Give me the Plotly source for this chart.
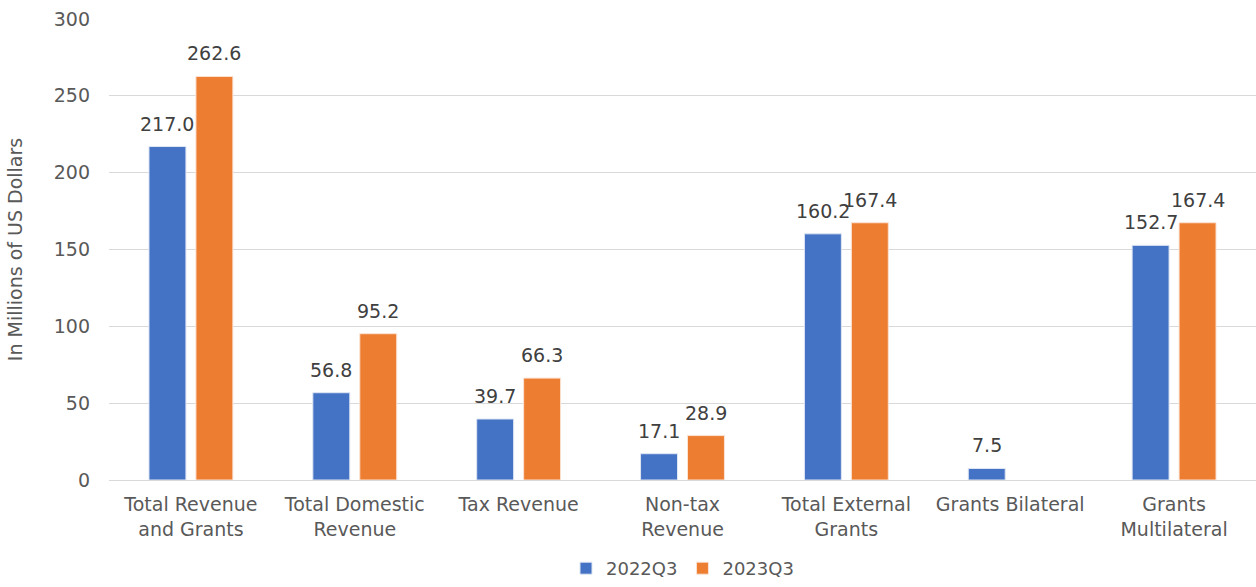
import plotly.graph_objects as go

categories = ["Total Revenue<br>and Grants", "Total Domestic<br>Revenue", "Tax Revenue",
              "Non-tax<br>Revenue", "Total External<br>Grants", "Grants Bilateral",
              "Grants<br>Multilateral"]
values_2022q3 = [217.0, 56.8, 39.7, 17.1, 160.2, 7.5, 152.7]
values_2023q3 = [262.6, 95.2, 66.3, 28.9, 167.4, None, 167.4]
y_ticks = [0, 50, 100, 150, 200, 250, 300]

FONT = "DejaVu Sans"
TEXT = "#595959"
LABEL = "#404040"
SLOT_PX = 23.5  # half of one bar slot within a group

fig = go.Figure()
fig.add_trace(go.Bar(
    name="2022Q3", x=categories, y=values_2022q3,
    marker=dict(color="#4472C4", line=dict(color="#dfe6f3", width=1)),
))
fig.add_trace(go.Bar(
    name="2023Q3", x=categories, y=values_2023q3,
    marker=dict(color="#ED7D31", line=dict(color="#fbe3d4", width=1)),
))

# value labels above each bar
for vals, shift in ((values_2022q3, -SLOT_PX), (values_2023q3, SLOT_PX)):
    for cat, v in zip(categories, vals):
        if v is None:
            continue
        fig.add_annotation(x=cat, y=v, text=f"{v:.1f}", showarrow=False,
                           xshift=shift, yshift=10, yanchor="bottom",
                           font=dict(size=19, color=LABEL, family=FONT))

fig.update_layout(
    width=1256, height=587,
    margin=dict(l=109, r=0, t=19, b=107, autoexpand=False),
    paper_bgcolor="white", plot_bgcolor="white",
    barmode="group", bargap=0.427, bargroupgap=0.213,
    font=dict(family=FONT, color=TEXT, size=19),
    legend=dict(orientation="h", x=0.5, xanchor="center", yref="container", y=-0.012,
                yanchor="bottom", font=dict(size=18, color=TEXT), itemwidth=30,
                traceorder="normal"),
    xaxis=dict(tickfont=dict(size=19, color=TEXT), showline=True, linecolor="#d9d9d9",
               linewidth=1, ticks="", ticklabelstandoff=7, automargin=False),
    yaxis=dict(range=[0, 300], tickvals=y_ticks, showgrid=True, gridcolor="#d9d9d9",
               gridwidth=1, zeroline=False, ticks="", ticklabelstandoff=18,
               tickfont=dict(size=19, color=TEXT), automargin=False,
               title=dict(text="In Millions of US Dollars", font=dict(size=19, color=TEXT),
                          standoff=26)),
)

fig.write_html("out.html")
